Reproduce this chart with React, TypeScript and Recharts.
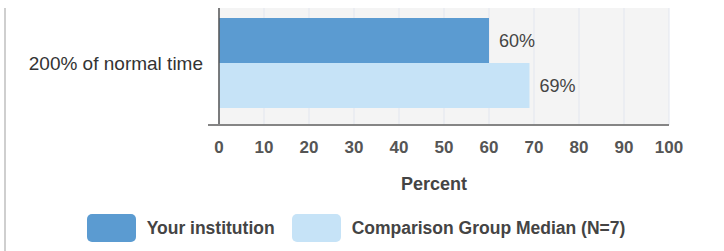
import { Bar, BarChart, CartesianGrid, LabelList, XAxis, YAxis } from "recharts";

const categories = ["200% of normal time"];
const institution = [60];
const comparison = [69];
const xTicks = [0, 10, 20, 30, 40, 50, 60, 70, 80, 90, 100];

const SERIES = [
  { key: "institution", name: "Your institution", color: "#5b9bd1" },
  { key: "comparison", name: "Comparison Group Median (N=7)", color: "#c6e3f7" },
];

const FONT = "'Liberation Sans', Arial, sans-serif";

const data = categories.map((c, i) => ({
  category: c,
  institution: institution[i],
  comparison: comparison[i],
}));

function LegendBox() {
  return (
    <div
      style={{
        position: "absolute",
        top: 214,
        left: 0,
        width: 724,
        display: "flex",
        justifyContent: "center",
        alignItems: "center",
        gap: 17,
        fontFamily: FONT,
        fontSize: 17.5,
        fontWeight: "bold",
        color: "#444",
        marginLeft: -6,
      }}
    >
      {SERIES.map((s) => (
        <div key={s.key} style={{ display: "flex", alignItems: "center", gap: 11 }}>
          <span style={{ width: 49, height: 28, background: s.color, borderRadius: 5, display: "inline-block" }} />
          <span>{s.name}</span>
        </div>
      ))}
    </div>
  );
}

export default function App() {
  return (
    <div style={{ position: "absolute", left: 0, top: 0, width: 724, height: 251, background: "#fff" }}>
      <div style={{ position: "absolute", left: 4, top: 8, width: 2, height: 243, background: "#cfcfcf" }} />
      <BarChart
        width={724}
        height={251}
        data={data}
        layout="vertical"
        margin={{ top: 8, right: 55, bottom: 56, left: 0 }}
        barCategoryGap={10}
        barGap={0}
      >
        <CartesianGrid horizontal={false} vertical stroke="#e2e6ef" fill="#f4f4f4" />
        <XAxis
          type="number"
          domain={[0, 100]}
          ticks={xTicks}
          interval={0}
          tickLine={false}
          tickSize={0}
          tickMargin={16}
          height={70}
          axisLine={{ stroke: "#858585", strokeWidth: 2 }}
          tick={{ fontSize: 17, fontWeight: "bold", fill: "#555", fontFamily: FONT }}
          label={{
            value: "Percent",
            position: "insideBottom",
            offset: 5,
            dx: -10,
            style: { fontSize: 18, fontWeight: "bold", fill: "#444", fontFamily: FONT },
          }}
        />
        <YAxis
          type="category"
          dataKey="category"
          width={219}
          tickLine={false}
          tickSize={0}
          tickMargin={16}
          padding={{ top: 0, bottom: 7 }}
          axisLine={{ stroke: "#555", strokeWidth: 1.5 }}
          tick={{ fontSize: 19, fill: "#333", fontFamily: FONT }}
        />
        {SERIES.map((s) => (
          <Bar key={s.key} dataKey={s.key} name={s.name} fill={s.color} isAnimationActive={false}>
            <LabelList
              dataKey={s.key}
              position="right"
              offset={10}
              formatter={(v: number) => `${v}%`}
              style={{ fontSize: 18, fill: "#444", fontFamily: FONT }}
            />
          </Bar>
        ))}
      </BarChart>
      <div style={{ position: "absolute", left: 208, top: 124, width: 12, height: 2, background: "#858585" }} />
      <LegendBox />
    </div>
  );
}
